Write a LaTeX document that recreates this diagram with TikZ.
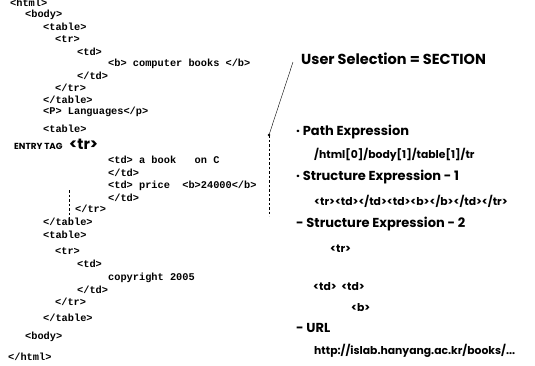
\documentclass[tikz,border=0pt]{standalone}
\usepackage{fontspec}
\setmainfont{Poppins}
\newfontfamily\codefont{Liberation Mono}
\usetikzlibrary{positioning}

\begin{document}
\begin{tikzpicture}[
  x=1pt, y=-1pt,
  code/.style={anchor=west, inner sep=0pt, font=\codefont\bfseries\fontsize{10.3}{11}\selectfont},
  tag/.style={anchor=west, inner sep=0pt, font=\bfseries\fontsize{8.8}{10}\selectfont},
  bigtag/.style={anchor=west, inner sep=0pt, font=\bfseries\fontsize{15}{16}\selectfont},
  head/.style={anchor=west, inner sep=0pt, font=\bfseries\fontsize{13}{14}\selectfont},
  title/.style={anchor=west, inner sep=0pt, font=\bfseries\fontsize{14.5}{16}\selectfont},
  expr/.style={anchor=west, inner sep=0pt, font=\bfseries\fontsize{10.8}{12}\selectfont},
  link/.style={thin},
  sel/.style={thin, dash pattern=on 2.5pt off 2pt}
]
\useasboundingbox (0,0) rectangle (535,365);

% HTML source
\node[code] (html)   at (10,3)   {<html>};
\node[code] (body)   at (25,15)  {<body>};
\node[code] (tbla)   at (43,27)  {<table>};
\node[code] (tra)    at (55,39)  {<tr>};
\node[code] (tda)    at (77,52)  {<td>};
\node[code] (cb)     at (108,64) {<b> computer books </b>};
\node[code] (tdae)   at (77,76)  {</td>};
\node[code] (trae)   at (55,88)  {</tr>};
\node[code] (tblae)  at (43,100) {</table>};
\node[code] (lang)   at (43,112) {<P> Languages</p>};
\node[code] (tblb)   at (43,129) {<table>};
\node[tag]  (entry)  at (14,146) {ENTRY TAG};
\node[bigtag] (trb)  at (69,144) {<tr>};
\node[code] (tdb)    at (108,160) {<td> a book\ \ \ on C};
\node[code] (tdbe)   at (108,173) {</td>};
\node[code] (tdc)    at (108,186) {<td> price\ \ <b>24000</b>};
\node[code] (tdce)   at (108,198) {</td>};
\node[code] (trbe)   at (75,209) {</tr>};
\node[code] (tblbe)  at (43,222) {</table>};
\node[code] (tblc)   at (43,235) {<table>};
\node[code] (trc)    at (55,251) {<tr>};
\node[code] (tdd)    at (77,264) {<td>};
\node[code] (copy)   at (108,278) {copyright 2005};
\node[code] (tdde)   at (77,290) {</td>};
\node[code] (trce)   at (55,302) {</tr>};
\node[code] (tblce)  at (43,318) {</table>};
\node[code] (bodye)  at (25,337) {<body>};
\node[code] (htmle)  at (8,357)  {</html>};

% Selection marks
\coordinate (seltop) at (269,135);
\coordinate (selbot) at (269,216);
\coordinate (userend) at (293,62);
\coordinate (lefttop) at (69,190);
\coordinate (leftbot) at (69,223);
\fill (seltop) circle (1.3pt);
\draw[sel] (seltop) -- (selbot);
\draw[sel] (lefttop) -- (leftbot);
\draw[link] (seltop) -- (userend);

% Right side
\node[title] (user) at (301,59) {User Selection = SECTION};
\node[head] (path)  at (296,132) {· Path Expression};
\node[expr] (pathx) at (314,155) {/html[0]/body[1]/table[1]/tr};
\node[head] (st1)   at (296,177) {· Structure Expression - 1};
\node[expr] (st1x)  at (314,201) {<tr><td></td><td><b></b></td></tr>};
\node[head] (st2)   at (296,224) {- Structure Expression - 2};
\node[expr] (s2tr)  at (330,249) {<tr>};
\node[expr] (s2td)  at (313,287) {<td>\ \ <td>};
\node[expr] (s2b)   at (351,308) {<b>};
\node[head] (url)   at (296,328) {- URL};
\node[expr] (urlx)  at (314,351) {http://islab.hanyang.ac.kr/books/...};

\end{tikzpicture}
\end{document}
